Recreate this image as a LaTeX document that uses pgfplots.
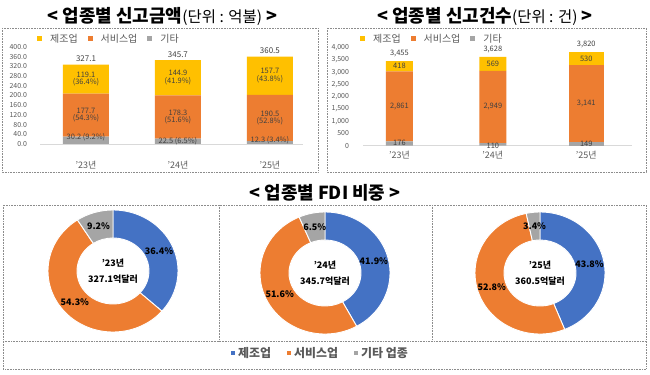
\documentclass[border=0pt]{standalone}
\usepackage{fontspec}
\setmainfont{Noto Sans CJK KR}
\usepackage{pgfplots}
\usepackage{pgfplotstable}
\pgfplotsset{compat=1.18}
\usetikzlibrary{calc}
\definecolor{cBlue}{HTML}{4472C4}
\definecolor{cOrange}{HTML}{ED7D31}
\definecolor{cGray}{HTML}{A5A5A5}
\definecolor{cYellow}{HTML}{FFC000}
\definecolor{cText}{HTML}{595959}
\definecolor{cLab}{HTML}{404040}
\definecolor{cBox}{HTML}{8C8C8C}
\definecolor{cAxis}{HTML}{D9D9D9}
\newcommand{\fs}[1]{\fontsize{#1}{#1}\selectfont}

% amounts (100 million USD)
\pgfplotstableread{
x other serv manu
0 30.2 177.7 119.1
1 22.5 178.3 144.9
2 12.3 190.5 157.7
}\amount
% counts, first two years / last year
\pgfplotstableread{
x other serv manu
0 176 2861 418
1 110 2949 569
}\countsA
\pgfplotstableread{
x other serv manu
2 149 3141 530
}\countsB
% donut shares
\pgfplotstableread{
year total manu serv other
23 327.1 36.4 54.3 9.2
24 345.7 41.9 51.6 6.5
25 360.5 43.8 52.8 3.4
}\donutdata

\tikzset{
  lblA/.style={font=\fs{7.5}, text=cLab, align=center, inner sep=0.5bp},
  lblB/.style={font=\fs{7.5}, text=cLab, inner sep=0.5bp},
}
\pgfplotsset{
  leftgeom/.style={at={(40bp,231bp)}, anchor=south west, scale only axis,
    width=263bp, height=97bp, xmin=-0.5, xmax=2.36, ymin=0, ymax=400},
  rightgeom/.style={at={(363bp,229.3bp)}, anchor=south west, scale only axis,
    width=269bp, height=98bp, xmin=-0.39, xmax=2.49, ymin=0, ymax=4000},
}

\newcommand{\donutwedge}[3]{%
  \fill[#1, draw=white, line width=0.9bp]
    ($(axis cs:0,0)+(#2:65bp and 61bp)$)
    arc[start angle=#2, end angle=#3, x radius=65bp, y radius=61bp]
    -- ($(axis cs:0,0)+(#3:36bp and 33bp)$)
    arc[start angle=#3, end angle=#2, x radius=36bp, y radius=33bp] -- cycle;}

\newcommand{\donut}[3]{%
  \pgfplotstablegetelem{#1}{manu}\of\donutdata\edef\vA{\pgfplotsretval}%
  \pgfplotstablegetelem{#1}{serv}\of\donutdata\edef\vB{\pgfplotsretval}%
  \pgfplotstablegetelem{#1}{other}\of\donutdata\edef\vC{\pgfplotsretval}%
  \pgfplotstablegetelem{#1}{year}\of\donutdata\edef\vY{\pgfplotsretval}%
  \pgfplotstablegetelem{#1}{total}\of\donutdata\edef\vT{\pgfplotsretval}%
  \pgfmathsetmacro\sumv{\vA+\vB+\vC}%
  \pgfmathsetmacro\aA{90}%
  \pgfmathsetmacro\aB{90-\vA/\sumv*360}%
  \pgfmathsetmacro\aC{\aB-\vB/\sumv*360}%
  \pgfmathsetmacro\aD{-270}%
  \pgfmathsetmacro\mA{(\aA+\aB)/2}%
  \pgfmathsetmacro\mB{(\aB+\aC)/2}%
  \pgfmathsetmacro\mC{(\aC+\aD)/2}%
  \begin{axis}[at={(#2bp,#3bp)}, anchor=center, hide axis, scale only axis,
    x=1bp, y=1bp, xmin=-70, xmax=70, ymin=-70, ymax=70, clip=false]
    \donutwedge{cBlue}{\aA}{\aB}
    \donutwedge{cOrange}{\aB}{\aC}
    \donutwedge{cGray}{\aC}{\aD}
    \node[font=\bfseries\fs{9}] at ($(axis cs:0,0)+(\mA:50.5bp and 47bp)$) {\vA\%};
    \node[font=\bfseries\fs{9}] at ($(axis cs:0,0)+(\mB:50.5bp and 47bp)$) {\vB\%};
    \node[font=\bfseries\fs{9}] at ($(axis cs:0,0)+(\mC:50.5bp and 47bp)$) {\vC\%};
    \node[font=\bfseries\fs{9}] at (axis cs:0,8) {’\vY{}년};
    \node[font=\bfseries\fs{9}] at (axis cs:0,-8) {\vT{}억달러};
  \end{axis}}

% a legend-only full-page axis
\newcommand{\legendaxis}[6]{%
  \begin{axis}[
    at={(0bp,0bp)}, anchor=south west, scale only axis, hide axis,
    x=1bp, y=1bp, xmin=0, xmax=650, ymin=0, ymax=375,
    legend columns=3,
    legend image code/.code={\fill[##1] (0bp,-#4) rectangle (2*#4,#4); \path (#5,0bp);},
    legend style={draw=none, fill=none, inner sep=0pt, font=#3, text=cText,
      nodes={inner sep=1bp},
      /tikz/every even column/.append style={column sep=#6},
      at={(axis description cs:#1,#2)}, anchor=west},
  ]}

\begin{document}
\begin{tikzpicture}
\useasboundingbox (0bp,0bp) rectangle (650bp,375bp);
\fill[white] (0bp,0bp) rectangle (650bp,375bp);

\begin{scope}[x=1bp,y=1bp]
% ---- frames
\begin{scope}[densely dotted, draw=cBox, line width=0.6bp]
  \draw (2,347) rectangle (318,203);
  \draw (327,347) rectangle (646,203);
  \draw (3,170) rectangle (646,6);
  \draw (219,170) -- (219,34);
  \draw (432,170) -- (432,34);
  \draw (3,34) -- (646,34);
\end{scope}
% ---- titles
\node[font=\fs{18}\bfseries] at (162.5,359) {< 업종별 신고금액{\mdseries\fs{15.5}(단위 : 억불)} >};
\node[font=\fs{18}\bfseries] at (485,359) {< 업종별 신고건수{\mdseries\fs{15.5}(단위 : 건)} >};
\node[font=\fs{18}\bfseries] at (325,182) {< 업종별 FDI 비중 >};
\end{scope}

% ---- left: amounts
\begin{axis}[
  leftgeom,
  ybar stacked, bar width=46bp, clip=false,
  xtick={0,1,2}, xticklabels={’23년,’24년,’25년},
  ytick={0,40,80,120,160,200,240,280,320,360,400},
  axis x line*=bottom, axis y line*=left,
  y axis line style={draw=none},
  x axis line style={draw=cAxis, line width=0.8bp},
  major tick length=0pt, tick style={draw=none},
  yticklabel style={font=\fs{7}, text=cText, xshift=-9.5bp,
    /pgf/number format/.cd, fixed, fixed zerofill, precision=1, assume math mode=true},
  xticklabel style={font=\fs{9}, text=cText, yshift=-14bp},
]
\addplot[fill=cGray, draw=none] table[x=x, y=other] {\amount};
\addplot[fill=cOrange, draw=none] table[x=x, y=serv] {\amount};
\addplot[fill=cYellow, draw=none] table[x=x, y=manu] {\amount};
\end{axis}
% labels of the left chart
\begin{axis}[leftgeom, hide axis, clip=false]
\node[lblA] at (axis cs:0,267.45) {119.1\\(36.4\%)};
\node[lblA] at (axis cs:0,119.05) {177.7\\(54.3\%)};
\node[lblA] at (axis cs:0,27) {30.2 (9.2\%)};
\node[lblA] at (axis cs:1,273.25) {144.9\\(41.9\%)};
\node[lblA] at (axis cs:1,111.65) {178.3\\(51.6\%)};
\node[lblA] at (axis cs:1,12) {22.5 (6.5\%)};
\node[lblA] at (axis cs:2,281.65) {157.7\\(43.8\%)};
\node[lblA] at (axis cs:2,107.55) {190.5\\(52.8\%)};
\node[lblA] at (axis cs:2,14) {12.3 (3.4\%)};
\node[lblA, anchor=south, yshift=2bp, font=\fs{8}] at (axis cs:0,327.1) {327.1};
\node[lblA, anchor=south, yshift=2bp, font=\fs{8}] at (axis cs:1,345.7) {345.7};
\node[lblA, anchor=south, yshift=2bp, font=\fs{8}] at (axis cs:2,360.5) {360.5};
\end{axis}

% ---- right: counts
\begin{axis}[
  rightgeom,
  ybar stacked, bar width=27bp, clip=false,
  xtick={0,1,2}, xticklabels={’23년,’24년,’25년},
  ytick={0,500,1000,1500,2000,2500,3000,3500,4000},
  axis x line*=bottom, axis y line*=left,
  y axis line style={draw=none},
  x axis line style={draw=cAxis, line width=0.8bp},
  major tick length=0pt, tick style={draw=none},
  yticklabel style={font=\fs{7}, text=cText, xshift=-10.5bp,
    /pgf/number format/.cd, fixed, precision=0, 1000 sep={,}, assume math mode=true},
  xticklabel style={font=\fs{9}, text=cText, yshift=-2bp},
]
\addplot[fill=cGray, draw=none] table[x=x, y=other] {\countsA};
\addplot[fill=cOrange, draw=none] table[x=x, y=serv] {\countsA};
\addplot[fill=cYellow, draw=none] table[x=x, y=manu] {\countsA};
\end{axis}
\begin{axis}[rightgeom, hide axis, ybar stacked, bar width=35bp]
\addplot[fill=cGray, draw=none] table[x=x, y=other] {\countsB};
\addplot[fill=cOrange, draw=none] table[x=x, y=serv] {\countsB};
\addplot[fill=cYellow, draw=none] table[x=x, y=manu] {\countsB};
\end{axis}
% labels of the right chart
\begin{axis}[rightgeom, hide axis, clip=false]
\node[lblB] at (axis cs:0,3246) {418};
\node[lblB] at (axis cs:1,3343.5) {569};
\node[lblB] at (axis cs:2,3555) {530};
\node[lblB] at (axis cs:0,1606.5) {2,861};
\node[lblB] at (axis cs:1,1584.5) {2,949};
\node[lblB] at (axis cs:2,1719.5) {3,141};
\node[lblB] at (axis cs:0,98) {176};
\node[lblB] at (axis cs:1,-10) {110};
\node[lblB] at (axis cs:2,57) {149};
\node[lblB, anchor=south, yshift=3bp] at (axis cs:0,3455) {3,455};
\node[lblB, anchor=south, yshift=3bp] at (axis cs:1,3628) {3,628};
\node[lblB, anchor=south, yshift=3bp] at (axis cs:2,3820) {3,820};
\end{axis}

% ---- top legends
\legendaxis{0.05692}{0.896}{\fs{10}}{2.5bp}{12bp}{9bp}
\addlegendimage{fill=cYellow, draw=none}\addlegendentry{제조업}
\addlegendimage{fill=cOrange, draw=none}\addlegendentry{서비스업}
\addlegendimage{fill=cGray, draw=none}\addlegendentry{기타}
\end{axis}
\legendaxis{0.55385}{0.896}{\fs{10}}{2.5bp}{12bp}{9bp}
\addlegendimage{fill=cYellow, draw=none}\addlegendentry{제조업}
\addlegendimage{fill=cOrange, draw=none}\addlegendentry{서비스업}
\addlegendimage{fill=cGray, draw=none}\addlegendentry{기타}
\end{axis}

% ---- donuts
\donut{0}{113}{104}
\donut{1}{325}{102}
\donut{2}{540}{102}

% ---- bottom legend
\legendaxis{0.3554}{0.0587}{\bfseries\fs{12}}{2bp}{6bp}{15bp}
\addlegendimage{fill=cBlue, draw=none}\addlegendentry{제조업}
\addlegendimage{fill=cOrange, draw=none}\addlegendentry{서비스업}
\addlegendimage{fill=cGray, draw=none}\addlegendentry{기타 업종}
\end{axis}
\end{tikzpicture}
\end{document}
